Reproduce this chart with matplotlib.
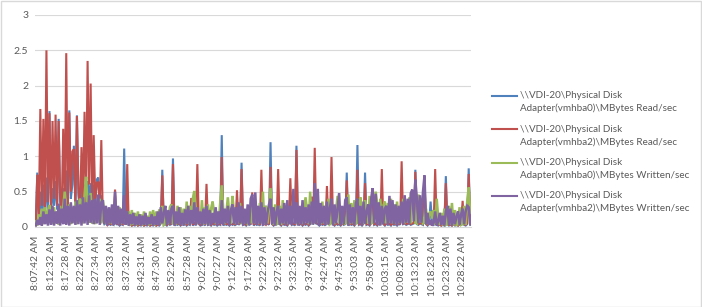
import matplotlib
matplotlib.use("Agg")
import matplotlib.pyplot as plt
from matplotlib.lines import Line2D
from matplotlib.patches import Rectangle
import numpy as np

# Sample times shown on the category axis (one label every 10 samples)
time_labels = [
    "8:07:42 AM", "8:12:32 AM", "8:17:28 AM", "8:22:29 AM", "8:27:34 AM",
    "8:32:33 AM", "8:37:32 AM", "8:42:31 AM", "8:47:30 AM", "8:52:29 AM",
    "8:57:28 AM", "9:02:27 AM", "9:07:27 AM", "9:12:27 AM", "9:17:28 AM",
    "9:22:29 AM", "9:27:32 AM", "9:32:35 AM", "9:37:40 AM", "9:42:47 AM",
    "9:47:53 AM", "9:53:03 AM", "9:58:09 AM", "10:03:15 AM", "10:08:20 AM",
    "10:13:23 AM", "10:18:23 AM", "10:23:23 AM", "10:28:22 AM",
]
label_step = 10

series_names = [
    "\\\\VDI-20\\Physical Disk\nAdapter(vmhba0)\\MBytes Read/sec",
    "\\\\VDI-20\\Physical Disk\nAdapter(vmhba2)\\MBytes Read/sec",
    "\\\\VDI-20\\Physical Disk\nAdapter(vmhba0)\\MBytes Written/sec",
    "\\\\VDI-20\\Physical Disk\nAdapter(vmhba2)\\MBytes Written/sec",
]

# MBytes Read/sec, vmhba0
read_hba0 = [
    0.04, 0.77, 0.10, 0.50, 0.20, 0.60, 0.15, 0.70, 0.25, 1.64,
    0.20, 0.55, 0.30, 0.65, 0.25, 1.53, 0.35, 0.15, 0.55, 0.30,
    0.80, 0.20, 1.65, 0.40, 0.60, 1.15, 0.25, 1.58, 0.45, 0.15,
    0.70, 0.30, 0.60, 0.25, 0.65, 0.45, 0.62, 0.20, 0.60, 0.30,
    0.67, 0.70, 0.25, 0.45, 0.10, 0.04, 0.06, 0.03, 0.05, 0.03,
    0.04, 0.03, 0.45, 0.03, 0.05, 0.02, 0.04, 0.03, 1.11, 0.04,
    0.30, 0.02, 0.04, 0.02, 0.03, 0.02, 0.04, 0.02, 0.03, 0.02,
    0.04, 0.02, 0.03, 0.02, 0.04, 0.02, 0.03, 0.02, 0.04, 0.02,
    0.03, 0.02, 0.05, 0.81, 0.03, 0.04, 0.02, 0.05, 0.03, 0.04,
    0.97, 0.02, 0.04, 0.03, 0.05, 0.02, 0.04, 0.03, 0.05, 0.02,
    0.04, 0.03, 0.30, 0.02, 0.05, 0.03, 0.40, 0.04, 0.02, 0.03,
    0.05, 0.02, 0.30, 0.03, 0.04, 0.02, 0.05, 0.03, 0.04, 0.02,
    0.04, 0.03, 1.30, 0.02, 0.05, 0.03, 0.04, 0.02, 0.05, 0.03,
    0.04, 0.02, 0.30, 0.03, 0.05, 0.91, 0.03, 0.04, 0.02, 0.05,
    0.03, 0.04, 0.30, 0.02, 0.05, 0.03, 0.04, 0.02, 0.40, 0.03,
    0.04, 0.30, 0.05, 0.03, 1.20, 0.04, 0.02, 0.05, 0.03, 0.40,
    0.04, 0.02, 0.05, 0.03, 0.04, 0.02, 0.05, 0.35, 0.03, 0.04,
    0.02, 1.15, 0.04, 0.03, 0.05, 0.02, 0.04, 0.03, 0.05, 0.02,
    0.04, 0.30, 0.03, 0.50, 0.05, 0.04, 0.02, 0.05, 0.03, 0.04,
    0.02, 0.30, 0.03, 0.05, 0.45, 0.04, 0.02, 0.05, 0.03, 0.04,
    0.02, 0.05, 0.03, 0.04, 0.77, 0.02, 0.05, 0.03, 0.04, 0.02,
    0.05, 1.16, 0.03, 0.04, 0.02, 0.05, 0.77, 0.03, 0.04, 0.02,
    0.05, 0.46, 0.03, 0.04, 0.02, 0.05, 0.03, 0.40, 0.04, 0.02,
    0.05, 0.03, 0.04, 0.02, 0.05, 0.03, 0.04, 0.02, 0.05, 0.03,
    0.45, 0.04, 0.05, 0.03, 0.04, 0.05, 0.03, 0.04, 0.05, 0.81,
    0.04, 0.03, 0.05, 0.04, 0.03, 0.60, 0.04, 0.02, 0.05, 0.36,
    0.04, 0.02, 0.30, 0.03, 0.02, 0.04, 0.02, 0.03, 0.02, 0.72,
    0.04, 0.02, 0.03, 0.02, 0.04, 0.02, 0.03, 0.02, 0.04, 0.02,
    0.30, 0.03, 0.02, 0.04, 0.83, 0.03,
]

# MBytes Read/sec, vmhba2
read_hba2 = [
    0.05, 0.74, 0.15, 1.67, 0.30, 1.53, 0.20, 2.50, 0.35, 1.61,
    0.25, 1.50, 0.40, 1.59, 0.30, 1.50, 0.45, 0.20, 1.39, 0.35,
    2.46, 0.25, 1.62, 0.50, 1.07, 1.10, 0.30, 1.57, 0.55, 0.20,
    1.13, 0.40, 1.63, 0.35, 2.35, 0.60, 2.03, 0.25, 1.30, 0.40,
    0.62, 0.64, 0.30, 1.23, 0.12, 0.05, 0.08, 0.03, 0.06, 0.04,
    0.05, 0.03, 0.53, 0.04, 0.06, 0.03, 0.05, 0.04, 0.40, 0.05,
    0.89, 0.03, 0.05, 0.02, 0.04, 0.03, 0.05, 0.02, 0.04, 0.03,
    0.05, 0.02, 0.04, 0.03, 0.05, 0.02, 0.04, 0.03, 0.05, 0.02,
    0.04, 0.03, 0.06, 0.73, 0.04, 0.05, 0.03, 0.06, 0.04, 0.05,
    0.89, 0.03, 0.05, 0.04, 0.06, 0.03, 0.05, 0.04, 0.06, 0.03,
    0.05, 0.04, 0.41, 0.03, 0.06, 0.04, 0.89, 0.05, 0.03, 0.04,
    0.06, 0.03, 0.61, 0.04, 0.05, 0.03, 0.06, 0.04, 0.05, 0.03,
    0.05, 0.04, 0.99, 0.03, 0.06, 0.04, 0.05, 0.03, 0.06, 0.04,
    0.05, 0.03, 0.52, 0.04, 0.06, 0.82, 0.04, 0.05, 0.03, 0.06,
    0.04, 0.05, 0.49, 0.03, 0.06, 0.04, 0.05, 0.03, 0.81, 0.04,
    0.05, 0.03, 0.06, 0.04, 0.85, 0.05, 0.03, 0.06, 0.04, 0.82,
    0.05, 0.03, 0.06, 0.04, 0.05, 0.03, 0.06, 0.69, 0.04, 0.05,
    0.03, 1.09, 0.05, 0.04, 0.06, 0.03, 0.05, 0.04, 0.06, 0.03,
    0.05, 0.43, 0.04, 1.12, 0.06, 0.05, 0.03, 0.06, 0.04, 0.05,
    0.03, 0.58, 0.04, 0.06, 0.99, 0.05, 0.03, 0.06, 0.04, 0.05,
    0.03, 0.06, 0.04, 0.05, 0.66, 0.03, 0.06, 0.04, 0.05, 0.03,
    0.06, 0.81, 0.04, 0.05, 0.03, 0.06, 0.62, 0.04, 0.05, 0.03,
    0.06, 0.50, 0.04, 0.05, 0.03, 0.06, 0.04, 0.82, 0.05, 0.03,
    0.06, 0.04, 0.05, 0.03, 0.06, 0.04, 0.05, 0.03, 0.06, 0.04,
    0.93, 0.05, 0.06, 0.04, 0.05, 0.06, 0.04, 0.05, 0.06, 0.78,
    0.05, 0.04, 0.06, 0.05, 0.04, 0.68, 0.05, 0.03, 0.06, 0.04,
    0.05, 0.03, 0.82, 0.04, 0.03, 0.05, 0.02, 0.04, 0.03, 0.62,
    0.05, 0.03, 0.04, 0.02, 0.05, 0.03, 0.04, 0.02, 0.05, 0.03,
    0.37, 0.04, 0.03, 0.05, 0.75, 0.04,
]

# MBytes Written/sec, vmhba0
written_hba0 = [
    0.08, 0.02, 0.18, 0.03, 0.26, 0.04, 0.28, 0.05, 0.24, 0.31,
    0.20, 0.04, 0.28, 0.05, 0.22, 0.03, 0.30, 0.06, 0.28, 0.50,
    0.25, 0.05, 0.32, 0.04, 0.25, 0.06, 0.36, 0.04, 0.30, 0.40,
    0.35, 0.05, 0.45, 0.71, 0.30, 0.06, 0.48, 0.05, 0.30, 0.04,
    0.35, 0.06, 0.40, 0.05, 0.38, 0.22, 0.04, 0.26, 0.05, 0.24,
    0.04, 0.30, 0.06, 0.22, 0.05, 0.28, 0.04, 0.20, 0.06, 0.22,
    0.03, 0.22, 0.02, 0.24, 0.03, 0.20, 0.02, 0.22, 0.03, 0.18,
    0.02, 0.22, 0.03, 0.16, 0.02, 0.22, 0.03, 0.24, 0.02, 0.22,
    0.03, 0.25, 0.04, 0.30, 0.03, 0.05, 0.22, 0.04, 0.28, 0.32,
    0.04, 0.18, 0.03, 0.30, 0.05, 0.28, 0.03, 0.26, 0.04, 0.36,
    0.04, 0.30, 0.05, 0.40, 0.51, 0.25, 0.04, 0.20, 0.05, 0.38,
    0.03, 0.28, 0.04, 0.32, 0.03, 0.26, 0.36, 0.20, 0.04, 0.22,
    0.05, 0.35, 0.59, 0.24, 0.04, 0.20, 0.42, 0.18, 0.05, 0.44,
    0.22, 0.04, 0.26, 0.05, 0.34, 0.04, 0.24, 0.05, 0.18, 0.03,
    0.26, 0.05, 0.30, 0.22, 0.05, 0.28, 0.04, 0.34, 0.05, 0.50,
    0.04, 0.30, 0.05, 0.26, 0.55, 0.24, 0.03, 0.32, 0.04, 0.05,
    0.30, 0.03, 0.38, 0.05, 0.28, 0.04, 0.20, 0.05, 0.26, 0.40,
    0.22, 0.04, 0.26, 0.05, 0.20, 0.04, 0.28, 0.42, 0.22, 0.04,
    0.50, 0.04, 0.34, 0.05, 0.24, 0.06, 0.28, 0.04, 0.36, 0.05,
    0.30, 0.05, 0.40, 0.04, 0.06, 0.28, 0.04, 0.24, 0.44, 0.05,
    0.26, 0.04, 0.22, 0.05, 0.06, 0.46, 0.04, 0.34, 0.05, 0.38,
    0.05, 0.06, 0.36, 0.42, 0.22, 0.04, 0.38, 0.26, 0.05, 0.44,
    0.05, 0.06, 0.26, 0.50, 0.32, 0.05, 0.40, 0.04, 0.30, 0.36,
    0.05, 0.34, 0.06, 0.40, 0.05, 0.32, 0.04, 0.36, 0.05, 0.30,
    0.06, 0.40, 0.05, 0.36, 0.06, 0.42, 0.05, 0.38, 0.44, 0.06,
    0.05, 0.46, 0.06, 0.36, 0.05, 0.06, 0.26, 0.04, 0.18, 0.22,
    0.12, 0.24, 0.03, 0.40, 0.14, 0.03, 0.20, 0.02, 0.26, 0.03,
    0.04, 0.30, 0.03, 0.34, 0.02, 0.24, 0.03, 0.04, 0.28, 0.03,
    0.04, 0.30, 0.03, 0.36, 0.56, 0.20,
]

# MBytes Written/sec, vmhba2
written_hba2 = [
    0.02, 0.10, 0.03, 0.14, 0.02, 0.22, 0.04, 0.18, 0.02, 0.25,
    0.03, 0.30, 0.02, 0.22, 0.05, 0.33, 0.02, 0.26, 0.04, 0.40,
    0.03, 0.30, 0.02, 0.35, 0.05, 0.30, 0.03, 0.38, 0.04, 0.32,
    0.02, 0.42, 0.05, 0.35, 0.03, 0.45, 0.06, 0.38, 0.04, 0.40,
    0.05, 0.46, 0.03, 0.35, 0.38, 0.04, 0.30, 0.02, 0.28, 0.05,
    0.32, 0.03, 0.50, 0.04, 0.30, 0.02, 0.26, 0.05, 0.45, 0.03,
    0.22, 0.02, 0.18, 0.04, 0.20, 0.02, 0.15, 0.03, 0.18, 0.02,
    0.16, 0.03, 0.20, 0.02, 0.14, 0.04, 0.18, 0.02, 0.15, 0.03,
    0.22, 0.02, 0.28, 0.05, 0.20, 0.30, 0.03, 0.24, 0.04, 0.26,
    0.30, 0.02, 0.22, 0.04, 0.28, 0.03, 0.20, 0.02, 0.25, 0.04,
    0.30, 0.03, 0.24, 0.05, 0.35, 0.02, 0.28, 0.04, 0.22, 0.02,
    0.26, 0.04, 0.30, 0.02, 0.24, 0.03, 0.20, 0.05, 0.28, 0.02,
    0.22, 0.04, 0.38, 0.03, 0.26, 0.05, 0.30, 0.02, 0.24, 0.32,
    0.04, 0.28, 0.03, 0.35, 0.05, 0.30, 0.02, 0.26, 0.04, 0.32,
    0.03, 0.40, 0.46, 0.05, 0.49, 0.03, 0.30, 0.04, 0.35, 0.02,
    0.28, 0.03, 0.20, 0.32, 0.40, 0.04, 0.28, 0.02, 0.22, 0.30,
    0.03, 0.26, 0.05, 0.34, 0.02, 0.38, 0.04, 0.30, 0.03, 0.54,
    0.05, 0.35, 0.02, 0.30, 0.04, 0.38, 0.03, 0.28, 0.05, 0.32,
    0.03, 0.36, 0.05, 0.62, 0.04, 0.54, 0.02, 0.34, 0.05, 0.30,
    0.03, 0.36, 0.04, 0.28, 0.40, 0.02, 0.32, 0.05, 0.26, 0.48,
    0.03, 0.30, 0.04, 0.38, 0.42, 0.02, 0.32, 0.05, 0.28, 0.03,
    0.34, 0.40, 0.04, 0.30, 0.02, 0.36, 0.05, 0.22, 0.32, 0.03,
    0.40, 0.55, 0.05, 0.47, 0.03, 0.35, 0.02, 0.30, 0.04, 0.26,
    0.30, 0.03, 0.44, 0.05, 0.38, 0.04, 0.32, 0.02, 0.30, 0.05,
    0.36, 0.04, 0.45, 0.06, 0.40, 0.05, 0.48, 0.53, 0.08, 0.67,
    0.40, 0.05, 0.45, 0.06, 0.50, 0.73, 0.04, 0.20, 0.03, 0.10,
    0.02, 0.06, 0.22, 0.02, 0.08, 0.20, 0.03, 0.16, 0.02, 0.22,
    0.30, 0.03, 0.26, 0.02, 0.20, 0.04, 0.15, 0.22, 0.03, 0.18,
    0.26, 0.04, 0.22, 0.30, 0.28, 0.05,
]

colors = ["#4F81BD", "#C0504D", "#9BBB59", "#8064A2"]
widths = [1.5, 1.5, 1.8, 1.8]
text_gray = "#595959"
grid_gray = "#D9D9D9"

W, H = 702, 307
fig = plt.figure(figsize=(W / 100, H / 100), dpi=100)

# plot area in pixel coordinates: x 35..471, y 15..227 (top origin)
ax = fig.add_axes([35 / W, (H - 227) / H, (471 - 35) / W, 212 / H])

all_series = [read_hba0, read_hba2, written_hba0, written_hba2]
n = len(read_hba0)
x = np.arange(n)
for vals, c, w in zip(all_series, colors, widths):
    ax.plot(x, vals, color=c, lw=w, solid_joinstyle="miter")

ax.set_xlim(-0.5, n - 0.5)
ax.set_ylim(0, 3)
ax.set_yticks(np.arange(0, 3.01, 0.5))
ax.set_yticklabels(["0", "0.5", "1", "1.5", "2", "2.5", "3"])
ax.set_xticks(np.arange(len(time_labels)) * label_step)
ax.set_xticklabels(time_labels, rotation=90, va="top", ha="center")

ax.grid(axis="y", color=grid_gray, lw=0.8)
ax.set_axisbelow(True)
for s in ["top", "right", "left"]:
    ax.spines[s].set_visible(False)
ax.spines["bottom"].set_color(grid_gray)
ax.tick_params(axis="both", length=0, colors=text_gray, labelsize=7.5)
ax.tick_params(axis="x", pad=6)
ax.tick_params(axis="y", pad=5)
for lab in ax.get_xticklabels() + ax.get_yticklabels():
    lab.set_fontfamily("Lato")

# legend drawn by hand so the key sits beside the first text line
legend_y = [96, 129.3, 162.7, 196]
for name, c, y in zip(series_names, colors, legend_y):
    fy = (H - y) / H
    fig.add_artist(Line2D([492 / W, 517 / W], [fy, fy], color=c, lw=1.5))
    first, second = name.split("\n")
    fig.text(520 / W, fy, first, va="center", ha="left", fontsize=7.1,
             color=text_gray, family="Lato")
    fig.text(520 / W, (H - y - 12.7) / H, second, va="center", ha="left",
             fontsize=7.1, color=text_gray, family="Lato")

# light border round the whole chart
fig.add_artist(Rectangle((0.5 / W, 0.5 / H), 1 - 1.5 / W, 1 - 1.5 / H,
                         transform=fig.transFigure, fill=False,
                         edgecolor=grid_gray, lw=1))

fig.savefig("out.png", dpi=100)
